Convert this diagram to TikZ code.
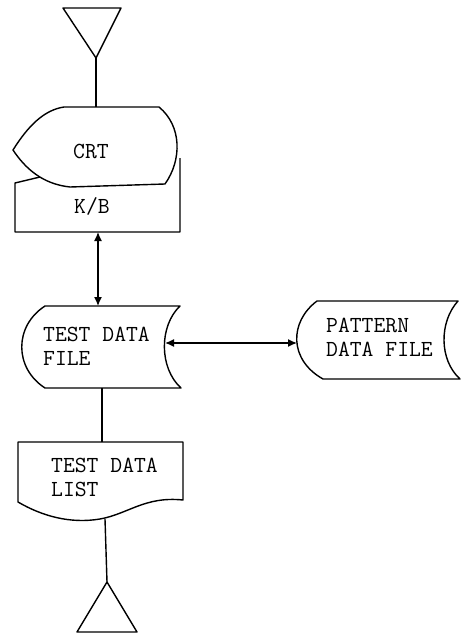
\documentclass[tikz,border=0pt]{standalone}
\usepackage{fontspec}
\usetikzlibrary{arrows.meta}

\begin{document}
\begin{tikzpicture}[x=1pt,y=-1pt,
  outline/.style={draw=black, line width=1.4pt, line join=round},
  txt/.style={font=\ttfamily\fontsize{23}{24}\selectfont, inner sep=0pt, align=left},
  flow/.style={draw=black, line width=1.4pt},
  twoway/.style={{Latex[length=9pt,width=8pt]}-{Latex[length=9pt,width=8pt]}}
]
\useasboundingbox (0,0) rectangle (470,634);

% terminal at the top
\draw[outline] (63,8) -- (121,8) -- (96,58) -- cycle;
\coordinate (topT) at (96,58);

% keyboard (manual input), partly hidden behind the display
\draw[outline] (40,177) -- (15,183) -- (15,232) -- (180,232) -- (180,158);
\coordinate (kbS) at (98,232);

% CRT display
\draw[outline] (13,150) .. controls (28,126) and (44,110) .. (64,107)
  -- (159,107) .. controls (182,126) and (182,160) .. (165,184)
  -- (70,187) .. controls (42,184) and (25,168) .. (13,150) -- cycle;
\coordinate (crtN) at (96,107);
\node[txt] (crt) at (91,151) {CRT};
\node[txt] (kb) at (92,206) {K/B};

% test data file (stored data)
\draw[outline] (45,306) -- (180,306) .. controls (159,326) and (159,368) .. (181,388)
  -- (45,388) .. controls (14,368) and (14,326) .. (45,306) -- cycle;
\coordinate (tdfN) at (98,306);
\coordinate (tdfS) at (102,388);
\coordinate (tdfE) at (165,343);
\node[txt, anchor=west] (tdf) at (43,346) {TEST DATA\\FILE};

% pattern data file (stored data)
\draw[outline] (317,301) -- (458,301) .. controls (439,322) and (439,360) .. (460,379)
  -- (323,379) .. controls (289,360) and (289,322) .. (317,301) -- cycle;
\coordinate (pdfW) at (297,343);
\node[txt, anchor=west] (pdf) at (326,337) {PATTERN\\DATA FILE};

% test data list (document)
\draw[outline] (18,442) -- (183,442) -- (183,500)
  .. controls (145,496) and (128,514) .. (100,519)
  .. controls (70,524) and (42,516) .. (18,502) -- cycle;
\coordinate (tdlN) at (102,442);
\coordinate (tdlS) at (105,519);
\node[txt, anchor=west] (tdl) at (51,477) {TEST DATA\\LIST};

% terminal at the bottom
\draw[outline] (107,582) -- (137,632) -- (77,632) -- cycle;
\coordinate (botT) at (107,582);

% connectors
\draw[flow] (topT) -- (crtN);
\draw[flow, twoway] (kbS) -- (tdfN);
\draw[flow, twoway] (tdfE) -- (pdfW);
\draw[flow] (tdfS) -- (tdlN);
\draw[flow] (tdlS) -- (botT);
\end{tikzpicture}
\end{document}
